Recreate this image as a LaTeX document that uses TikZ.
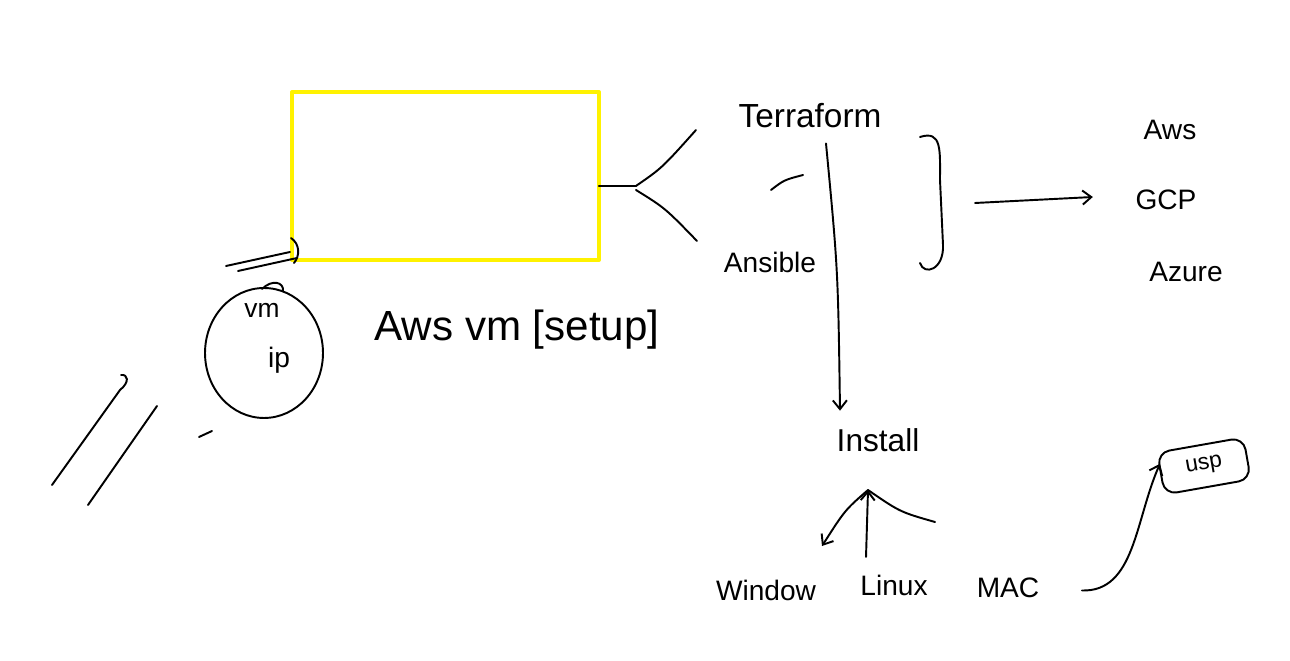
\documentclass[tikz,border=0pt]{standalone}
\usepackage{fontspec}
\setmainfont{Liberation Sans}
\usetikzlibrary{arrows.meta,shapes.geometric}
\tikzset{
  lbl/.style={font=\fontsize{18}{21}\selectfont, inner sep=1pt},
  small/.style={font=\fontsize{16}{19}\selectfont, inner sep=1pt},
  stroke/.style={line width=1.1pt, line cap=round, line join=round}
}
\begin{document}
\begin{tikzpicture}[x=.02cm, y=-.02cm, >={Straight Barb[length=5pt,width=8pt]}, stroke]
\useasboundingbox (0,0) rectangle (1290,661);
% yellow box
\node[draw=yellow, line width=2.3pt, inner sep=0pt, outer sep=0pt, minimum width=6.14cm, minimum height=3.36cm, anchor=north west] (vmbox) at (292,92) {};
\draw (291,238) .. controls (300,244) and (300,256) .. (294,263);
\draw (226,266) -- (290,252);
\draw (238,271) -- (297,258);
% vm circle
\node[draw, ellipse, minimum width=2.36cm, minimum height=2.6cm, inner sep=0pt] (vmcirc) at (264,353) {};
\draw (262,289) .. controls (272,279) and (284,282) .. (283,291);
\node[font=\fontsize{15}{18}\selectfont, inner sep=1pt] (vm) at (262,310) {vm};
\node[small] (ip) at (279,360) {ip};
\node[font=\fontsize{24}{28}\selectfont, inner sep=1pt] (setup) at (517,330) {Aws vm [setup]};
% strokes on the left
\draw (52,485) -- (120,390) .. controls (130,382) and (128,374) .. (121,375);
\draw (88,505) -- (157,406);
\draw (199,437) -- (212,431);
% tools
\node[font=\fontsize{19}{22}\selectfont, inner sep=1pt] (terraform) at (810,116) {Terraform};
\node[small] (ansible) at (770,262) {Ansible};
\draw ([yshift=-.2cm]vmbox.east) -- ++(37,0) coordinate (fork);
\draw (fork) .. controls (662,168) .. (696,130);
\draw ([yshift=-.08cm]fork) .. controls (665,208) .. (697,241);
\draw (771,190) .. controls (784,180) .. (803,175);
% brace
\draw (920,137) .. controls (942,130) and (940,150) .. (940,180) -- (943,245) .. controls (944,270) and (924,276) .. (920,263);
% clouds
\node[small] (aws) at (1170,130) {Aws};
\node[small] (gcp) at (1166,200) {GCP};
\node[small] (azure) at (1186,272) {Azure};
\coordinate (bracefrom) at (975,203);
\draw[->] (bracefrom) -- ([xshift=-.8cm,yshift=.06cm]gcp.west);
% install
\node[lbl] (install) at (878,440) {Install};
\draw[->] ([xshift=.32cm,yshift=-.25cm]terraform.south) .. controls (838,270) .. ([xshift=-.76cm,yshift=.3cm]install.north);
\node[small] (window) at (766,590) {Window};
\node[small] (linux) at (894,585) {Linux};
\node[small] (mac) at (1008,588) {MAC};
\coordinate (apex) at (868,490);
\draw[->] ([xshift=-.56cm,yshift=.3cm]linux.north) -- (apex);
\draw[->] (apex) .. controls (845,510) .. (822,546);
\draw (apex) .. controls (900,512) .. (935,522);
% usp
\node[draw, rounded corners=7pt, rotate=10, minimum width=1.75cm, minimum height=.85cm, inner sep=1pt, font=\fontsize{13}{16}\selectfont] (usp) at (1204,466) {usp};
\draw[->] ([xshift=.8cm,yshift=-.05cm]mac.east) .. controls (1135,592) and (1135,520) .. ([yshift=.2cm]usp.west);
\end{tikzpicture}
\end{document}
